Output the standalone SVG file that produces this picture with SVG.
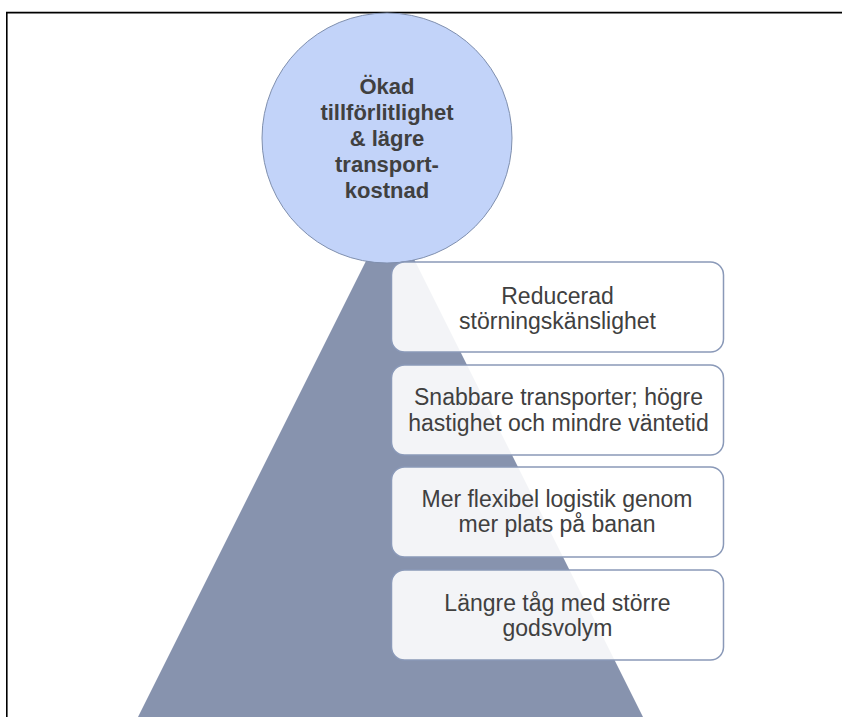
<svg xmlns="http://www.w3.org/2000/svg" width="842" height="717" viewBox="0 0 842 717">
<style>
.ct{font-family:"Liberation Sans",Arial,sans-serif;font-weight:bold;font-size:22px;fill:#404040;text-anchor:middle}
.bt{font-family:"Liberation Sans",Arial,sans-serif;font-size:23px;fill:#404040;text-anchor:middle}
.box{fill:#ffffff;fill-opacity:0.9;stroke:#8a99b8;stroke-width:1.5}
</style>
<rect x="0" y="0" width="842" height="717" fill="#ffffff"/>
<g id="frame">
<line x1="6" y1="11.8" x2="842" y2="11.8" stroke="#a0a0a0" stroke-width="1"/>
<path d="M6.8 717 V12.8 H842" fill="none" stroke="#000000" stroke-width="1.6"/>
</g>
<g id="pyramid">
<polygon points="390.5,212 138,717 643,717" fill="#8793ae"/>
</g>
<g id="goal">
<circle cx="387" cy="138" r="125" fill="#c2d3f9" stroke="#7f8fae" stroke-width="1"/>
<text class="ct" x="387" y="94">Ökad</text>
<text class="ct" x="387" y="120">tillförlitlighet</text>
<text class="ct" x="387" y="146">&amp; lägre</text>
<text class="ct" x="387" y="172">transport-</text>
<text class="ct" x="387" y="198">kostnad</text>
</g>
<g id="box1">
<rect class="box" x="391.5" y="262" width="332" height="90" rx="13"/>
<text class="bt" x="557.5" y="304">Reducerad</text>
<text class="bt" x="557.5" y="329">störningskänslighet</text>
</g>
<g id="box2">
<rect class="box" x="391.5" y="365" width="332" height="90" rx="13"/>
<text class="bt" x="558.5" y="405">Snabbare transporter; högre</text>
<text class="bt" x="558.5" y="431">hastighet och mindre väntetid</text>
</g>
<g id="box3">
<rect class="box" x="391.5" y="467" width="332" height="90" rx="13"/>
<text class="bt" x="557" y="507">Mer flexibel logistik genom</text>
<text class="bt" x="557" y="532">mer plats på banan</text>
</g>
<g id="box4">
<rect class="box" x="391.5" y="570" width="332" height="90" rx="13"/>
<text class="bt" x="557.5" y="611">Längre tåg med större</text>
<text class="bt" x="557.5" y="636">godsvolym</text>
</g>
<g id="connectors"></g>
</svg>
